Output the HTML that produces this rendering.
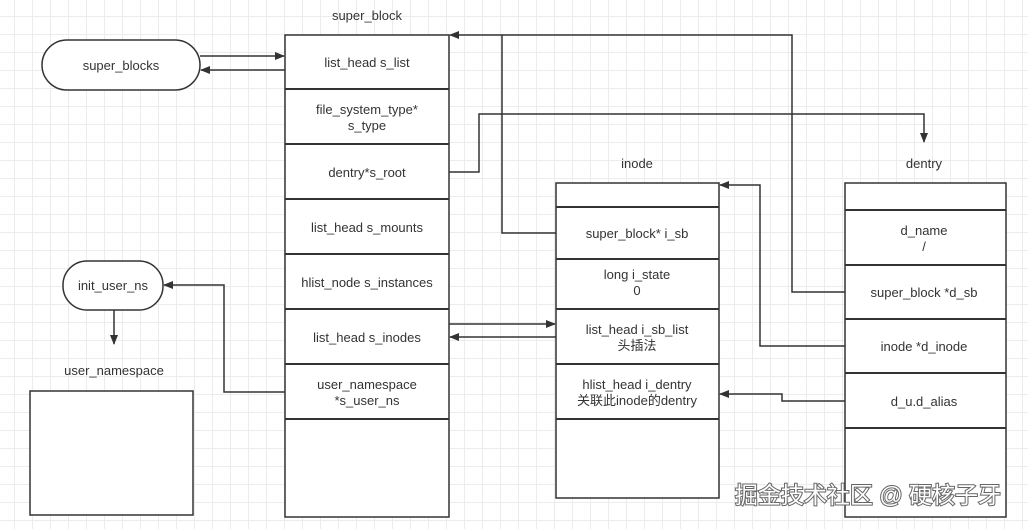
<!DOCTYPE html>
<html><head><meta charset="utf-8"><style>
body{margin:0;width:1028px;height:529px;overflow:hidden;background:#fff;
background-image:linear-gradient(#ececec 1px,transparent 1px),linear-gradient(90deg,#ececec 1px,transparent 1px);background-size:18px 18px;background-position:-4px -2px;}
svg{position:absolute;left:0;top:0}
text{font-family:"Liberation Sans","Noto Sans CJK SC",sans-serif;font-size:13px;fill:#333;text-anchor:middle}
</style></head><body>
<svg width="1028" height="529" viewBox="0 0 1028 529">
<defs><marker id="a" markerWidth="10" markerHeight="8" refX="9" refY="4" orient="auto" markerUnits="userSpaceOnUse"><path d="M0,0L10,4L0,8z" fill="#333"/></marker></defs>
<g fill="#fff" stroke="#333" stroke-width="1.5">
<rect x="42" y="40" width="158" height="50" rx="25"/>
<rect x="63" y="261" width="100" height="49" rx="24"/>
<rect x="30" y="391" width="163" height="124"/>
<rect x="285" y="35" width="164" height="482"/>
<rect x="556" y="183" width="163" height="315"/>
<rect x="845" y="183" width="161" height="334"/>
</g>
<g stroke="#333" stroke-width="2" fill="none">
<path d="M285 89H449M285 144H449M285 199H449M285 254H449M285 309H449M285 364H449M285 419H449"/>
<path d="M556 207H719M556 259H719M556 309H719M556 364H719M556 419H719"/>
<path d="M845 210H1006M845 265H1006M845 319H1006M845 373H1006M845 428H1006"/>
</g>
<g stroke="#333" stroke-width="1.5" fill="none">
<path d="M200 56H284" marker-end="url(#a)"/>
<path d="M285 70H201" marker-end="url(#a)"/>
<path d="M449 172H479V114H924V142" marker-end="url(#a)"/>
<path d="M556 233H502V35"/>
<path d="M845 292H792V35H450" marker-end="url(#a)"/>
<path d="M845 346H760V185H720" marker-end="url(#a)"/>
<path d="M845 401H782V394H720" marker-end="url(#a)"/>
<path d="M449 324H555" marker-end="url(#a)"/>
<path d="M556 337H450" marker-end="url(#a)"/>
<path d="M285 392H224V285H164" marker-end="url(#a)"/>
<path d="M114 310V344" marker-end="url(#a)"/>
</g>
<text x="367" y="20">super_block</text>
<text x="637" y="168">inode</text>
<text x="924" y="168">dentry</text>
<text x="114" y="375">user_namespace</text>
<text x="121" y="70">super_blocks</text>
<text x="113" y="290">init_user_ns</text>
<text x="367" y="67">list_head s_list</text>
<text x="367" y="114">file_system_type*</text><text x="367" y="130">s_type</text>
<text x="367" y="177">dentry*s_root</text>
<text x="367" y="232">list_head s_mounts</text>
<text x="367" y="287">hlist_node s_instances</text>
<text x="367" y="342">list_head s_inodes</text>
<text x="367" y="389">user_namespace</text><text x="367" y="405">*s_user_ns</text>
<text x="637" y="238">super_block* i_sb</text>
<text x="637" y="279">long i_state</text><text x="637" y="295">0</text>
<text x="637" y="334">list_head i_sb_list</text><text x="637" y="350">头插法</text>
<text x="637" y="389">hlist_head i_dentry</text><text x="637" y="405">关联此inode的dentry</text>
<text x="924" y="235">d_name</text><text x="924" y="251">/</text>
<text x="924" y="297">super_block *d_sb</text>
<text x="924" y="351">inode *d_inode</text>
<text x="924" y="406">d_u.d_alias</text>
<text x="868" y="503" style="font-size:23px;fill:#fff;stroke:#666;stroke-width:2;paint-order:stroke">掘金技术社区 @ 硬核子牙</text>
</svg>
</body></html>
